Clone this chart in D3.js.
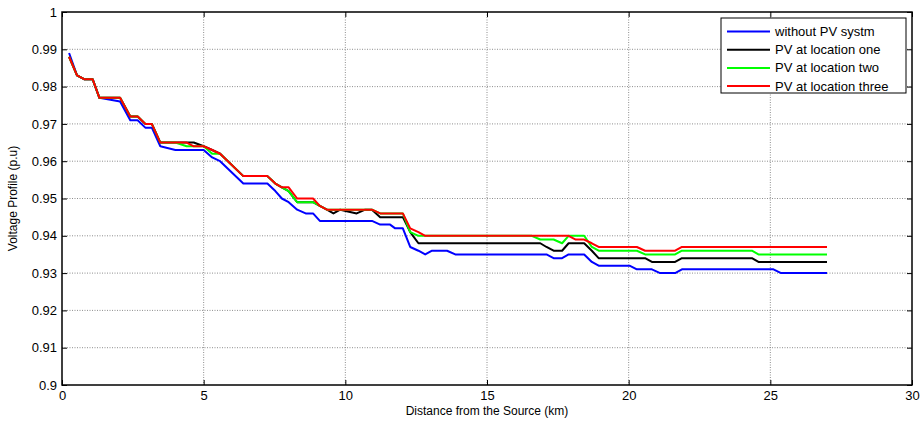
<!DOCTYPE html>
<meta charset="utf-8">
<script src="https://cdn.jsdelivr.net/npm/d3@7"></script>
<style>

body {
    margin: 0;
    background: #fff;
}

text {
    font-family: Arial, "Liberation Sans", sans-serif;
    fill: #000;
}

.grid line {
    stroke: #707070;
    stroke-width: 0.8;
    stroke-dasharray: 1, 1.5;
}

.axis line {
    stroke: #000;
}

.axis text {
    font-size: 13px;
}

path.series {
    fill: none;
    stroke-width: 2;
    stroke-linejoin: round;
}

</style>
<svg width="920" height="423"></svg>
<script>

// distances of the buses along the feeder (km)
var distance = [0.25, 0.53, 0.78, 1.08, 1.32, 2.05, 2.41, 2.67, 2.94, 3.17,
    3.47, 4.0, 4.4, 4.65, 5.0, 5.3, 5.58, 6.4, 7.25, 7.53,
    7.76, 8.0, 8.3, 8.6, 8.86, 9.1, 9.35, 9.58, 9.82, 10.4,
    10.7, 10.94, 11.23, 11.58, 11.76, 12.03, 12.29, 12.58, 12.82, 13.06,
    13.59, 13.88, 16.58, 16.88, 17.1, 17.35, 17.65, 17.88, 18.13, 18.43,
    18.7, 18.94, 20.03, 20.29, 20.58, 20.82, 21.11, 21.64, 21.88, 24.35,
    24.58, 25.11, 25.38, 27.0];

// voltage profiles (p.u)
var noPV = [0.989, 0.983, 0.982, 0.982, 0.977, 0.976, 0.971, 0.971, 0.969, 0.969,
    0.964, 0.963, 0.963, 0.963, 0.963, 0.961, 0.960, 0.954, 0.954, 0.952,
    0.950, 0.949, 0.947, 0.946, 0.946, 0.944, 0.944, 0.944, 0.944, 0.944,
    0.944, 0.944, 0.943, 0.943, 0.942, 0.942, 0.937, 0.936, 0.935, 0.936,
    0.936, 0.935, 0.935, 0.935, 0.935, 0.934, 0.934, 0.935, 0.935, 0.935,
    0.933, 0.932, 0.932, 0.931, 0.931, 0.931, 0.930, 0.930, 0.931, 0.931,
    0.931, 0.931, 0.930, 0.930];

var pvOne = [0.988, 0.983, 0.982, 0.982, 0.977, 0.977, 0.972, 0.972, 0.970, 0.970,
    0.965, 0.965, 0.965, 0.965, 0.964, 0.963, 0.962, 0.956, 0.956, 0.954,
    0.953, 0.952, 0.949, 0.949, 0.949, 0.948, 0.947, 0.946, 0.947, 0.946,
    0.947, 0.947, 0.945, 0.945, 0.945, 0.945, 0.941, 0.938, 0.938, 0.938,
    0.938, 0.938, 0.938, 0.938, 0.937, 0.936, 0.936, 0.938, 0.938, 0.938,
    0.936, 0.934, 0.934, 0.934, 0.934, 0.933, 0.933, 0.933, 0.934, 0.934,
    0.933, 0.933, 0.933, 0.933];

var pvTwo = [0.988, 0.983, 0.982, 0.982, 0.977, 0.977, 0.972, 0.972, 0.970, 0.970,
    0.965, 0.965, 0.964, 0.964, 0.964, 0.962, 0.962, 0.956, 0.956, 0.954,
    0.953, 0.952, 0.949, 0.949, 0.949, 0.948, 0.947, 0.947, 0.947, 0.947,
    0.947, 0.947, 0.946, 0.946, 0.946, 0.946, 0.941, 0.940, 0.940, 0.940,
    0.940, 0.940, 0.940, 0.939, 0.939, 0.939, 0.938, 0.940, 0.940, 0.940,
    0.937, 0.936, 0.936, 0.936, 0.935, 0.935, 0.935, 0.935, 0.936, 0.936,
    0.935, 0.935, 0.935, 0.935];

var pvThree = [0.988, 0.983, 0.982, 0.982, 0.977, 0.977, 0.972, 0.972, 0.970, 0.970,
    0.965, 0.965, 0.965, 0.964, 0.964, 0.963, 0.962, 0.956, 0.956, 0.954,
    0.953, 0.953, 0.950, 0.950, 0.950, 0.948, 0.947, 0.947, 0.947, 0.947,
    0.947, 0.947, 0.946, 0.946, 0.946, 0.946, 0.942, 0.941, 0.940, 0.940,
    0.940, 0.940, 0.940, 0.940, 0.940, 0.940, 0.940, 0.940, 0.939, 0.939,
    0.938, 0.937, 0.937, 0.937, 0.936, 0.936, 0.936, 0.936, 0.937, 0.937,
    0.937, 0.937, 0.937, 0.937];

var seriesNames = ["without PV systm", "PV at location one", "PV at location two", "PV at location three"];
var seriesColors = ["#0000ff", "#000000", "#00ff00", "#ff0000"];
var seriesValues = [noPV, pvOne, pvTwo, pvThree];

var xTicks = [0, 5, 10, 15, 20, 25, 30];
var yTicks = [0.9, 0.91, 0.92, 0.93, 0.94, 0.95, 0.96, 0.97, 0.98, 0.99, 1];
var yTickLabels = ["0.9", "0.91", "0.92", "0.93", "0.94", "0.95", "0.96", "0.97", "0.98", "0.99", "1"];

var svg = d3.select("svg"),
    margin = {top: 12, right: 8, bottom: 38, left: 62},
    width = +svg.attr("width") - margin.left - margin.right,
    height = +svg.attr("height") - margin.top - margin.bottom;

var g = svg.append("g")
    .attr("transform", "translate(" + margin.left + "," + margin.top + ")");

var x = d3.scaleLinear().domain([0, 30]).range([0, width]);
var y = d3.scaleLinear().domain([0.9, 1]).range([height, 0]);

// 网格
g.append("g")
    .attr("class", "grid")
    .selectAll("line")
    .data(xTicks.slice(1, -1))
    .enter().append("line")
    .attr("x1", function(d) { return x(d); })
    .attr("x2", function(d) { return x(d); })
    .attr("y1", 0)
    .attr("y2", height);

g.append("g")
    .attr("class", "grid")
    .selectAll("line")
    .data(yTicks.slice(1, -1))
    .enter().append("line")
    .attr("y1", function(d) { return y(d); })
    .attr("y2", function(d) { return y(d); })
    .attr("x1", 0)
    .attr("x2", width);

// 曲线
var line = d3.line()
    .x(function(d, i) { return x(distance[i]); })
    .y(function(d) { return y(d); });

g.append("g")
    .selectAll("path")
    .data(seriesValues)
    .enter().append("path")
    .attr("class", "series")
    .attr("stroke", function(d, i) { return seriesColors[i]; })
    .attr("d", line);

// 坐标轴 (ticks pointing inward, like matlab)
g.append("g")
    .attr("class", "axis")
    .attr("transform", "translate(0," + height + ")")
    .call(d3.axisBottom(x).tickValues(xTicks).tickSizeInner(-5).tickSizeOuter(0).tickPadding(6))
    .call(function(a) { a.select(".domain").remove(); });

g.append("g")
    .attr("class", "axis")
    .call(d3.axisTop(x).tickValues(xTicks).tickSizeInner(-5).tickSizeOuter(0).tickFormat(""))
    .call(function(a) { a.select(".domain").remove(); });

g.append("g")
    .attr("class", "axis")
    .call(d3.axisLeft(y).tickValues(yTicks).tickSizeInner(-5).tickSizeOuter(0).tickPadding(5)
        .tickFormat(function(d, i) { return yTickLabels[i]; }))
    .call(function(a) { a.select(".domain").remove(); });

g.append("g")
    .attr("class", "axis")
    .attr("transform", "translate(" + width + ",0)")
    .call(d3.axisRight(y).tickValues(yTicks).tickSizeInner(-5).tickSizeOuter(0).tickFormat(""))
    .call(function(a) { a.select(".domain").remove(); });

// box
g.append("rect")
    .attr("width", width)
    .attr("height", height)
    .attr("fill", "none")
    .attr("stroke", "#000")
    .attr("stroke-width", 1.5);

// 轴标题
svg.append("text")
    .attr("x", margin.left + width / 2)
    .attr("y", 415)
    .attr("text-anchor", "middle")
    .style("font-size", "12px")
    .text("Distance from the Source (km)");

svg.append("text")
    .attr("transform", "translate(17," + (margin.top + height / 2) + ") rotate(-90)")
    .attr("text-anchor", "middle")
    .style("font-size", "12px")
    .text("Voltage Profile (p.u)");

// 图例
var legend = svg.append("g")
    .attr("transform", "translate(721,18)");

legend.append("rect")
    .attr("width", 185)
    .attr("height", 75)
    .attr("fill", "#fff")
    .attr("stroke", "#000")
    .attr("stroke-width", 1);

var item = legend.selectAll("g.item")
    .data(seriesNames)
    .enter().append("g")
    .attr("class", "item")
    .attr("transform", function(d, i) { return "translate(0," + (13.5 + i * 18.2) + ")"; });

item.append("line")
    .attr("x1", 6)
    .attr("x2", 49)
    .attr("stroke", function(d, i) { return seriesColors[i]; })
    .attr("stroke-width", 2);

item.append("text")
    .attr("x", 54)
    .attr("dy", "0.35em")
    .style("font-size", "13px")
    .text(function(d) { return d; });

</script>
